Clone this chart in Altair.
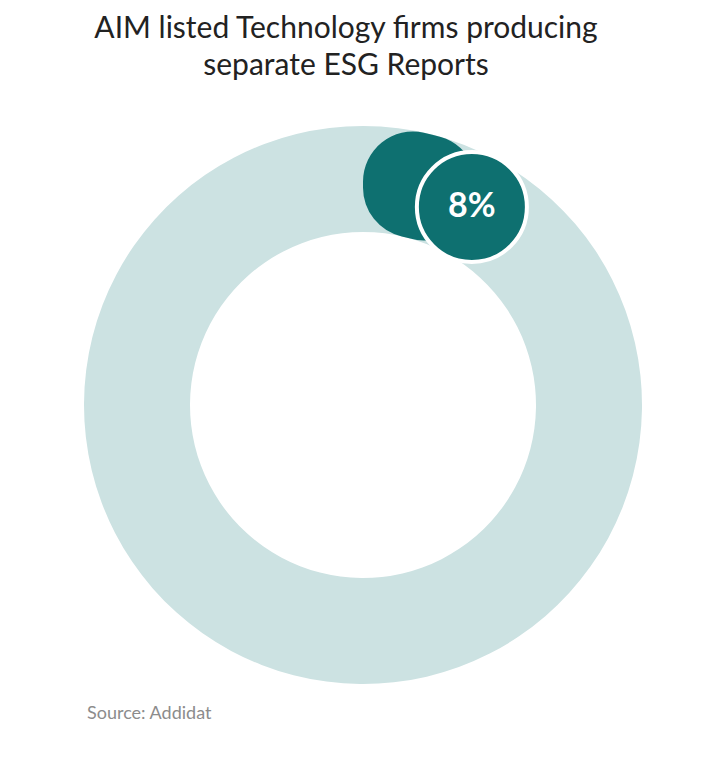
import altair as alt
import pandas as pd

categories = ["Separate ESG report", "No separate ESG report"]
values = [8, 92]
label = ["8%", ""]
title_lines = ["AIM listed Technology firms producing", "separate ESG Reports"]
source_text = ["Source: Addidat"]

df = pd.DataFrame({"category": categories, "value": values, "label": label})
title_df = pd.DataFrame({"line": title_lines, "row": [0, 1]})
src_df = pd.DataFrame({"text": source_text})

CX, CY = 355, 397
R_OUT, R_IN = 279, 173
R_MID = (R_OUT + R_IN) / 2
DARK = "#0e7070"
LIGHT = "#cce2e2"

theta_scale = alt.Scale(domain=[0, 100], range=[0, 6.283185307])

base = alt.Chart(df)

ring = base.mark_arc(radius=R_OUT, radius2=R_IN, color=LIGHT).encode(
    theta=alt.Theta("value:Q", stack=True, scale=theta_scale),
    x=alt.value(CX), y=alt.value(CY),
    order=alt.Order("value:Q"),
)

dark = base.transform_filter(alt.datum.category == categories[0]).mark_arc(
    radius=R_OUT, radius2=R_IN, color=DARK, cornerRadius=50
).encode(
    theta=alt.Theta("value:Q", stack=True, scale=theta_scale),
    x=alt.value(CX), y=alt.value(CY),
)

pos = base.transform_filter(alt.datum.category == categories[0]).transform_calculate(
    px=f"{CX} + {R_MID}*sin(2*PI*datum.value/100)",
    py=f"{CY} - {R_MID}*cos(2*PI*datum.value/100)",
)

bubble = pos.mark_circle(size=12100, color=DARK, opacity=1, stroke="white", strokeWidth=4).encode(
    x=alt.X("px:Q", scale=None, axis=None), y=alt.Y("py:Q", scale=None, axis=None)
)

bubble_text = pos.mark_text(font="Lato", fontSize=34, fontWeight="bold", color="white",
                            align="center", baseline="middle").encode(
    x=alt.X("px:Q", scale=None, axis=None), y=alt.Y("py:Q", scale=None, axis=None),
    text="label:N"
)

title = alt.Chart(title_df).mark_text(font="Lato", fontSize=30, color="#222222",
                                      align="center", baseline="alphabetic").encode(
    x=alt.value(338),
    y=alt.Y("row:Q", scale=alt.Scale(domain=[0, 1], range=[30, 67]), axis=None),
    text="line:N",
)

source = alt.Chart(src_df).mark_text(font="Lato", fontSize=18, color="#8c8c8c",
                                     align="left", baseline="middle").encode(
    x=alt.value(79), y=alt.value(706), text="text:N"
)

chart = alt.layer(ring, dark, bubble, bubble_text, title, source).properties(
    width=707, height=743, padding=0, background="white",
    autosize=alt.AutoSizeParams(type="none")
).resolve_scale(y="independent").configure_view(
    stroke="transparent", strokeWidth=0
)

chart.save("out.html", embed_options={"renderer": "svg", "actions": False})
